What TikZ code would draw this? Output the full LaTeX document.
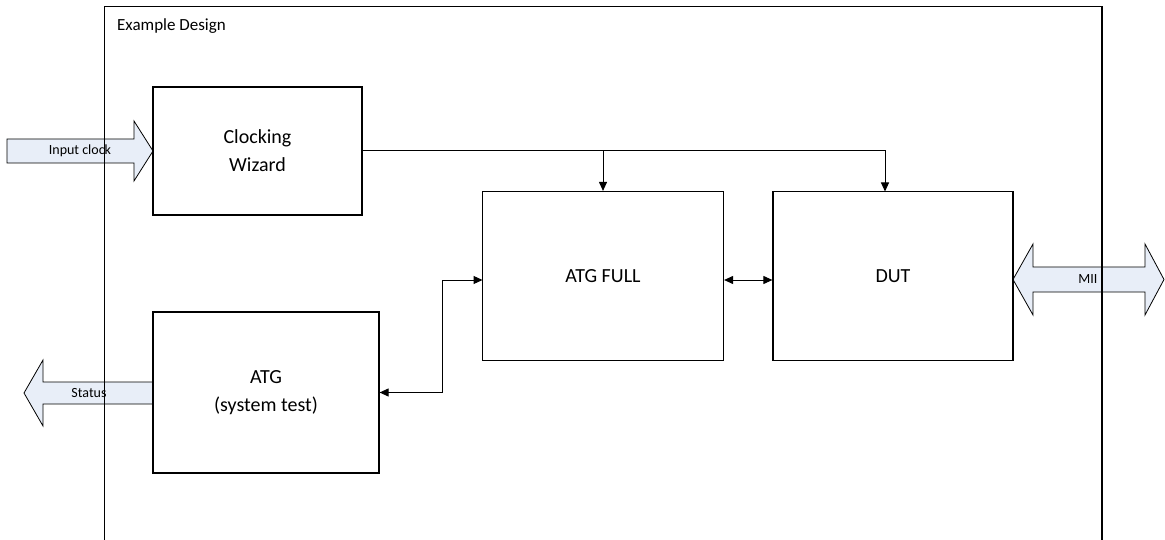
\documentclass[tikz,border=0pt]{standalone}
\usepackage{fontspec}
\setmainfont{Carlito}
\usetikzlibrary{arrows.meta}
\definecolor{arrowfill}{RGB}{232,238,248}
\tikzset{
  block/.style={draw=black, line width=1.2pt, fill=white, inner sep=0pt, align=center, font=\fontsize{20}{28}\selectfont},
  conn/.style={draw=black, line width=1pt, -{Triangle[width=8pt,length=9pt]}},
  bconn/.style={draw=black, line width=1pt, {Triangle[width=8pt,length=9pt]}-{Triangle[width=8pt,length=9pt]}},
  bigarrow/.style={draw=black, line width=0.8pt, fill=arrowfill},
  smalllabel/.style={font=\fontsize{14}{16}\selectfont, inner sep=0pt},
}
\begin{document}
\begin{tikzpicture}[x=1pt,y=-1pt]
\useasboundingbox (0,0) rectangle (1165,540);
% block arrows (drawn first; design border passes over them)
\draw[bigarrow] (7,139) -- (134,139) -- (134,121) -- (153,151) -- (134,181) -- (134,163) -- (7,163) -- cycle;
\node[smalllabel] (inclk) at (80,151) {Input clock};
\draw[bigarrow] (153,382) -- (43,382) -- (43,360) -- (24,393) -- (43,426) -- (43,404) -- (153,404) -- cycle;
\node[smalllabel] (status) at (89,393) {Status};
\draw[bigarrow] (1013,279.5) -- (1033,244) -- (1033,267) -- (1145,267) -- (1145,244) -- (1164,279.5) -- (1145,315) -- (1145,292) -- (1033,292) -- (1033,315) -- cycle;
\node[smalllabel] (mii) at (1088,279.5) {MII};
% example design border (open at bottom)
\draw[line width=1.3pt] (104.5,540) -- (104.5,6.5) -- (1102,6.5) -- (1102,540);
\node[anchor=base west, inner sep=0pt, font=\fontsize{17}{20}\selectfont] (title) at (117,31) {Example Design};
% blocks
\node[block, minimum width=209pt, minimum height=128pt] (cw) at (257.5,151) {Clocking\\Wizard};
\node[block, minimum width=226pt, minimum height=161pt] (atg) at (266,392.5) {ATG\\(system test)};
\node[block, minimum width=241pt, minimum height=169pt] (full) at (603,276) {ATG FULL};
\node[block, minimum width=240pt, minimum height=169pt] (dut) at (893,276) {DUT};
% connectors
\coordinate (dutin) at (885,191.5);
\coordinate (br) at (full.north |- cw.east);
\draw[conn] (cw.east) -| (dutin);
\draw[conn] (br) -- (full.north);
\coordinate (fullin) at (482.5,280);
\coordinate (bend) at (442,280);
\draw[bconn] (atg.east) -| (bend) -- (fullin);
\draw[bconn] (full.east |- fullin) -- (dut.west |- fullin);
\end{tikzpicture}
\end{document}
